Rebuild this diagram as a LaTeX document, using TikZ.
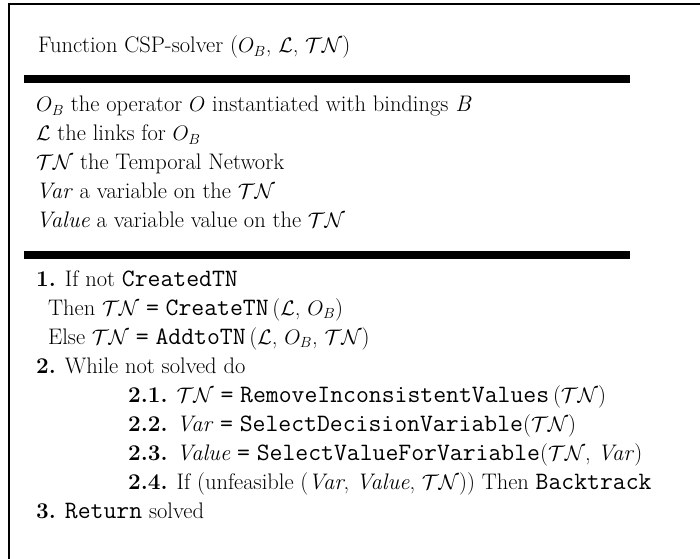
\RequirePackage{fix-cm}
\documentclass[tikz,border=0pt]{standalone}
\usepackage{fontspec}
% program identifiers in a light typewriter face, a little larger than the text
\newcommand{\code}[1]{{\fontsize{25bp}{29bp}\selectfont\ttfamily #1}}
% formulas set slightly smaller than the surrounding text
\newcommand{\mth}[1]{{\fontsize{21bp}{29bp}\selectfont$#1$}}
\newcommand{\TNet}{\mth{\mathcal{T}\mathcal{N}}}
\newcommand{\Links}{\mth{\mathcal{L}}}
\newcommand{\OpB}{\mth{O_B}}
\begin{document}
\begin{tikzpicture}[x=1bp,y=-1bp,
  line/.style={anchor=base west, inner sep=0pt,
    font=\fontsize{22.5bp}{29bp}\selectfont},
  rule/.style={fill=black}]
\useasboundingbox (0,0) rectangle (700,559);
% frame: left and top edges
\coordinate (fb) at (9,559);
\coordinate (ft) at (9,4);
\coordinate (fr) at (700,4);
\draw[line width=2.5bp] (fb) -- (ft) -- (fr);
% heavy separator bars
\fill[rule] (24,75) rectangle (630,83);
\fill[rule] (24,251) rectangle (630,259);
% header
\node[line] (title) at (38,53) {Function CSP-solver (\OpB, \Links, \TNet)};
% declarations
\node[line] (d1) at (36,112) {\OpB{} the operator \mth{O} instantiated with bindings \textit{B}};
\node[line] (d2) at (36,141) {\Links{} the links for \OpB};
\node[line] (d3) at (36,170) {\TNet{} the Temporal Network};
\node[line] (d4) at (36,199) {\textit{Var} a variable on the \TNet};
\node[line] (d5) at (36,228) {\textit{Value} a variable value on the \TNet};
% algorithm body
\node[line] (a1) at (36,286) {\textbf{1.} If not \code{CreatedTN}};
\node[line] (a2) at (48,315) {Then \TNet{} \code{=} \code{CreateTN}\,(\Links, \OpB)};
\node[line] (a3) at (48,344) {Else \TNet{} \code{=} \code{AddtoTN}\,(\Links, \OpB, \TNet)};
\node[line] (a4) at (36,373) {\textbf{2.} While not solved do};
\node[line] (a5) at (128,402) {\textbf{2.1.} \TNet{} \code{=} \code{RemoveInconsistentValues}\,(\TNet)};
\node[line] (a6) at (128,431) {\textbf{2.2.} \textit{Var} \code{=} \code{SelectDecisionVariable}(\TNet)};
\node[line] (a7) at (128,460) {\textbf{2.3.} \textit{Value} \code{=} \code{SelectValueForVariable}(\TNet, \textit{Var})};
\node[line] (a8) at (128,489) {\textbf{2.4.} If (unfeasible (\textit{Var}, \textit{Value}, \TNet)) Then \code{Backtrack}};
\node[line] (a9) at (36,518) {\textbf{3.} \code{Return} solved};
\end{tikzpicture}
\end{document}
